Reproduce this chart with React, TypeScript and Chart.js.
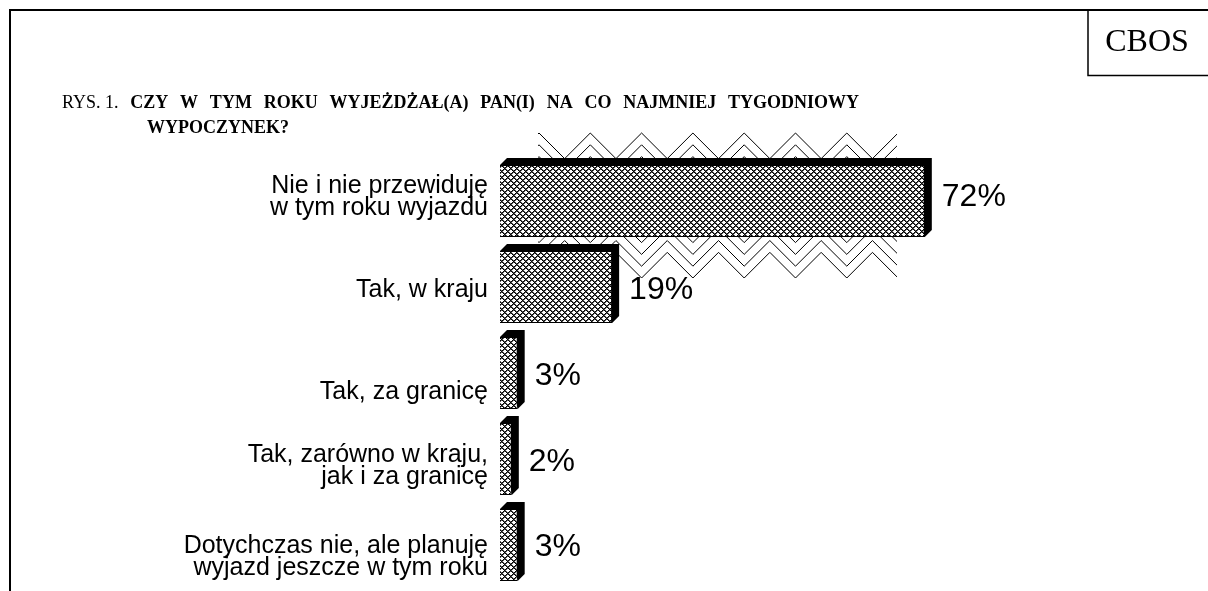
import React, { useEffect, useRef } from "react";
import { Chart, registerables } from "chart.js";

Chart.register(...registerables);

// ---------- data ----------
const categories: string[][] = [
  ["Nie i nie przewiduję", "w tym roku wyjazdu"],
  ["Tak, w kraju"],
  ["Tak, za granicę"],
  ["Tak, zarówno w kraju,", "jak i za granicę"],
  ["Dotychczas nie, ale planuję", "wyjazd jeszcze w tym roku"],
];
const values: number[] = [72, 19, 3, 2, 3];
const valueLabels: string[] = ["72%", "19%", "3%", "2%", "3%"];
const titlePrefix = "RYS. 1.";
const titleLine1 = "CZY W TYM ROKU WYJEŻDŻAŁ(A) PAN(I) NA CO NAJMNIEJ TYGODNIOWY";
const titleLine2 = "WYPOCZYNEK?";
const sourceLabel = "CBOS";

// ---------- style / layout constants ----------
const W = 1208;
const H = 591;
const DEPTH = 7;
const SANS = '"Liberation Sans", Arial, sans-serif';
const SERIF = '"Liberation Serif", "Times New Roman", serif';
const catNudge = [-4, 3, 19, 7, 12];
const valNudge = [-4, 3, 3, 3, 2];

function makeHatch(ctx: CanvasRenderingContext2D): CanvasPattern | string {
  const p = 6;
  const c = document.createElement("canvas");
  c.width = p;
  c.height = p;
  const g = c.getContext("2d");
  if (!g) return "#fff";
  const img = g.createImageData(p, p);
  for (let j = 0; j < p; j++) {
    for (let i = 0; i < p; i++) {
      const a = (i + j) % p;
      const b = (((i - j) % p) + p) % p;
      let v = 255;
      if (a === 0 || b === 0) v = 0;
      else if (a === 1 || b === 1) v = 90;
      const k = (j * p + i) * 4;
      img.data[k] = v;
      img.data[k + 1] = v;
      img.data[k + 2] = v;
      img.data[k + 3] = 255;
    }
  }
  g.putImageData(img, 0, 0);
  return ctx.createPattern(c, "repeat") || "#fff";
}

function zigzag(
  ctx: CanvasRenderingContext2D,
  x0: number,
  x1: number,
  yExt: number,
  period: number,
  up: boolean
) {
  const a = period / 2;
  ctx.beginPath();
  let first = true;
  for (let x = x0 - period; x <= x1 + period; x += a) {
    const k = Math.round((x - x0) / a);
    const isExt = k % 2 === 0;
    const y = isExt ? yExt : up ? yExt + a : yExt - a;
    if (first) {
      ctx.moveTo(x, y);
      first = false;
    } else ctx.lineTo(x, y);
  }
  ctx.stroke();
}

const decorPlugin = {
  id: "decor",
  beforeDraw(chart: any) {
    const ctx: CanvasRenderingContext2D = chart.ctx;
    ctx.save();
    ctx.fillStyle = "#fff";
    ctx.fillRect(0, 0, W, H);
    ctx.strokeStyle = "#000";
    ctx.lineWidth = 2;
    // outer frame
    ctx.beginPath();
    ctx.moveTo(10, H + 2);
    ctx.lineTo(10, 10);
    ctx.lineTo(W + 2, 10);
    ctx.stroke();
    // source box
    ctx.lineWidth = 1.5;
    ctx.beginPath();
    ctx.moveTo(1088, 10);
    ctx.lineTo(1088, 75.5);
    ctx.lineTo(W + 2, 75.5);
    ctx.stroke();
    ctx.fillStyle = "#000";
    ctx.textBaseline = "middle";
    ctx.textAlign = "center";
    ctx.font = `32px ${SERIF}`;
    ctx.fillText(sourceLabel, 1147, 43);
    // title (first line justified, as in the word-processor original)
    ctx.textAlign = "left";
    const reg = `18px ${SERIF}`;
    const bold = `bold 18px ${SERIF}`;
    const items: { t: string; f: string; w: number }[] = [];
    ctx.font = reg;
    items.push({ t: titlePrefix, f: reg, w: ctx.measureText(titlePrefix).width });
    ctx.font = bold;
    titleLine1.split(" ").forEach((t) => items.push({ t, f: bold, w: ctx.measureText(t).width }));
    const total = items.reduce((s, it) => s + it.w, 0);
    const gap = (859 - 62 - total) / (items.length - 1);
    let x = 62;
    items.forEach((it) => {
      ctx.font = it.f;
      ctx.fillText(it.t, x, 103);
      x += it.w + gap;
    });
    ctx.font = bold;
    ctx.fillText(titleLine2, 147, 128);
    ctx.restore();
  },
  beforeDatasetsDraw(chart: any) {
    const ctx: CanvasRenderingContext2D = chart.ctx;
    ctx.save();
    // decorative zigzag pattern behind the first bar
    ctx.strokeStyle = "#000";
    ctx.lineWidth = 1;
    const zx0 = 538;
    const zx1 = 897;
    const per = 51.3;
    ctx.save();
    ctx.beginPath();
    ctx.rect(zx0, 132, zx1 - zx0, 30);
    ctx.clip();
    for (let k = 0; k < 3; k++) zigzag(ctx, zx0 + 1, zx1, 133 + k * 11.8, per, true);
    ctx.restore();
    ctx.save();
    ctx.beginPath();
    ctx.rect(zx0, 236, zx1 - zx0, 43);
    ctx.clip();
    for (let k = 0; k < 7; k++) zigzag(ctx, zx0 + 1, zx1, 278 - k * 11.8, per, false);
    ctx.restore();

    // 3D depth of the bars
    const meta = chart.getDatasetMeta(0);
    ctx.fillStyle = "#000";
    meta.data.forEach((bar: any) => {
      const p = bar.getProps(["x", "y", "base", "height"], true);
      const top = p.y - p.height / 2;
      const bot = p.y + p.height / 2;
      ctx.beginPath();
      ctx.moveTo(p.base, top);
      ctx.lineTo(p.base + DEPTH, top - DEPTH);
      ctx.lineTo(p.x + DEPTH, top - DEPTH);
      ctx.lineTo(p.x + DEPTH, bot - DEPTH);
      ctx.lineTo(p.x, bot);
      ctx.closePath();
      ctx.fill();
    });
    ctx.restore();
  },
  afterDatasetsDraw(chart: any) {
    const ctx: CanvasRenderingContext2D = chart.ctx;
    const meta = chart.getDatasetMeta(0);
    const yScale = chart.scales.y;
    ctx.save();
    ctx.fillStyle = "#000";
    ctx.textBaseline = "middle";
    // category labels
    ctx.textAlign = "right";
    ctx.font = `25px ${SANS}`;
    const lh = 21.5;
    categories.forEach((lines, i) => {
      const cy = yScale.getPixelForValue(i) + catNudge[i];
      lines.forEach((ln, j) => {
        ctx.fillText(ln, 488, cy + (j - (lines.length - 1) / 2) * lh);
      });
    });
    // value labels
    ctx.textAlign = "left";
    ctx.font = `32px ${SANS}`;
    meta.data.forEach((bar: any, i: number) => {
      const p = bar.getProps(["x", "y"], true);
      ctx.fillText(valueLabels[i], p.x + 17, p.y + valNudge[i]);
    });
    ctx.restore();
  },
};

export default function App() {
  const ref = useRef<HTMLCanvasElement | null>(null);
  useEffect(() => {
    const canvas = ref.current;
    if (!canvas) return;
    const ctx = canvas.getContext("2d");
    if (!ctx) return;
    const hatch = makeHatch(ctx);
    const chart = new Chart(canvas, {
      type: "bar",
      data: {
        labels: categories,
        datasets: [
          {
            data: values,
            backgroundColor: hatch as any,
            borderColor: "#000",
            borderWidth: 1,
            barPercentage: 0.837,
            categoryPercentage: 1,
          },
        ],
      },
      options: {
        indexAxis: "y",
        responsive: false,
        animation: false,
        devicePixelRatio: 1,
        layout: { padding: { left: 500, right: 118, top: 158, bottom: 3 } },
        scales: {
          x: { display: false, min: 0, max: 100 },
          y: { display: false },
        },
        plugins: {
          legend: { display: false },
          tooltip: { enabled: false },
          title: { display: false },
        },
      },
      plugins: [decorPlugin],
    });
    return () => chart.destroy();
  }, []);
  return (
    <canvas
      ref={ref}
      width={W}
      height={H}
      style={{ position: "absolute", left: 0, top: 0, width: W, height: H }}
    />
  );
}
